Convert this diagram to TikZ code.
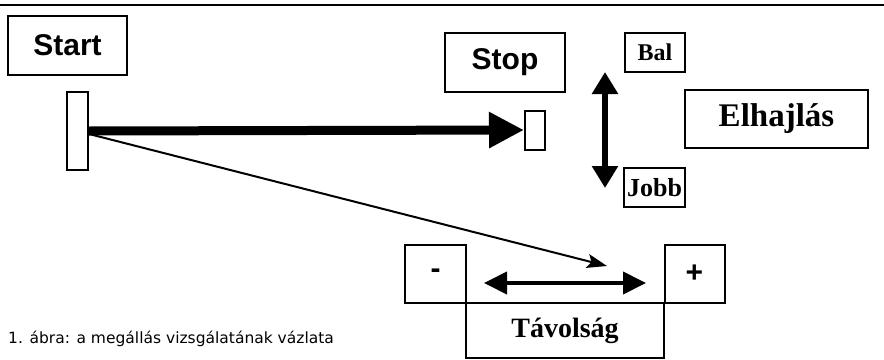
\documentclass[tikz,border=0pt]{standalone}
\usepackage{fontspec}
\setmainfont{Liberation Serif}
\setsansfont{Liberation Sans}
\newfontfamily\capfont{DejaVu Sans}
\usetikzlibrary{arrows.meta}
\begin{document}
\begin{tikzpicture}[x=1pt,y=-1pt,
  box/.style={draw=black,line width=2pt,fill=white,inner sep=0pt,anchor=center},
  sanslab/.style={font=\sffamily\bfseries\fontsize{30}{33}\selectfont},
]
\useasboundingbox (0,0) rectangle (884,359);
\fill[white] (0,0) rectangle (884,359);
% top rule
\coordinate (tl) at (0,5);
\coordinate (tr) at (884,5);
\draw[line width=2pt] (tl) -- (tr);

\node[box,sanslab,minimum width=119pt,minimum height=59pt] (start) at (67.5,45.5) {Start};
\node[box,minimum width=21pt,minimum height=78pt] (startbar) at (77.5,131) {};
\node[box,sanslab,minimum width=120pt,minimum height=59pt] (stop) at (505,62.5) {Stop};
\node[box,minimum width=20pt,minimum height=39pt] (stopbar) at (535,130) {};
\node[box,font=\rmfamily\bfseries\fontsize{24}{27}\selectfont,minimum width=60pt,minimum height=39pt] (bal) at (655,52.5) {Bal};
\node[box,font=\rmfamily\bfseries\fontsize{26}{29}\selectfont,minimum width=61pt,minimum height=39pt] (jobb) at (654.5,187.5) {Jobb};
\node[box,font=\rmfamily\bfseries\fontsize{33}{37}\selectfont,minimum width=183pt,minimum height=58pt] (elh) at (776.5,119) {Elhajlás};
\node[box,minimum width=198pt,minimum height=55pt,font=\rmfamily\bfseries\fontsize{28}{32}\selectfont] (tav) at (565,330.5) {Távolság};
\node[box,sanslab,minimum width=61pt,minimum height=58pt] (minus) at (435.5,274) {-};
\node[box,sanslab,minimum width=60pt,minimum height=58pt] (plus) at (694.5,274) {+};

\node[anchor=west,inner sep=0pt,font=\capfont\fontsize{15.5}{18}\selectfont] (cap) at (8,339) {1. ábra: a megállás vizsgálatának vázlata};

% thick arrow start -> stop
\draw[line width=9pt,-{Triangle[length=35pt,width=34pt]}] (startbar.east) -- (stopbar.west);
% thin arrow
\coordinate (thinend) at (607,266);
\draw[line width=2pt,-{Stealth[length=20pt,width=14pt,inset=4pt]}] ([yshift=-3pt]startbar.east) -- (thinend);
% vertical double arrow
\coordinate (va1) at (605,72);
\coordinate (va2) at (605,188);
\draw[line width=6pt,{Triangle[length=22pt,width=25pt]}-{Triangle[length=22pt,width=25pt]}] (va1) -- (va2);
% horizontal double arrow
\coordinate (ha1) at (484,283);
\coordinate (ha2) at (646,283);
\draw[line width=4pt,{Triangle[length=23pt,width=22pt]}-{Triangle[length=23pt,width=22pt]}] (ha1) -- (ha2);
\end{tikzpicture}
\end{document}
